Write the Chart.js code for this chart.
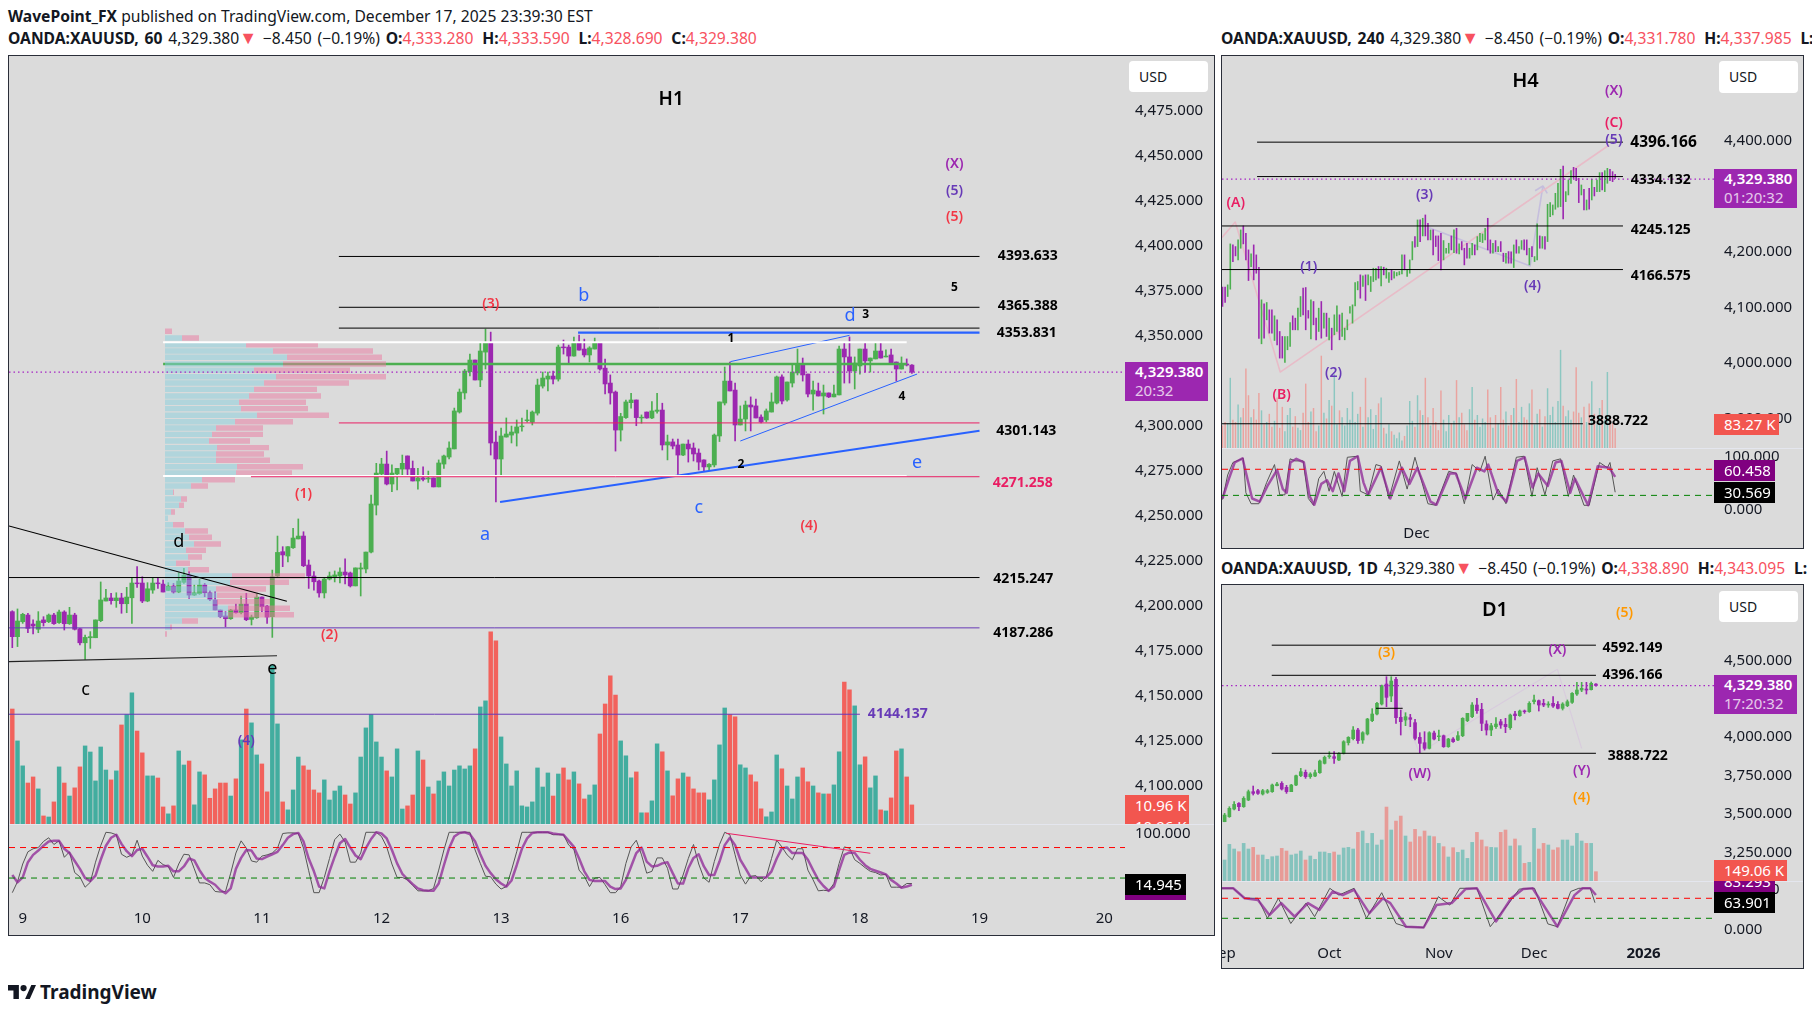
<!DOCTYPE html>
<html lang="en">
<head>
<meta charset="UTF-8" />
<title>OANDA:XAUUSD H1 H4 D1</title>
<script src="https://cdn.jsdelivr.net/npm/chart.js"></script>
<style>
  html, body { margin: 0; background: #fff; }
  body { width: 1812px; height: 1016px; position: relative; overflow: hidden; font-family: 'Noto Sans', sans-serif; color: #131722; font-size: 15px; }
  .head { position: absolute; white-space: nowrap; line-height: 20px; font-size: 15.65px; }
  .head.quote { word-spacing: 1.7px; }
  .head b { font-weight: 700; }
  .head b.k { margin-left: 3px; }
  .head i { font-style: normal; color: #F7525F; }
  .head i.tri { font-size: 18px; line-height: 14px; }
  .panel { position: absolute; box-sizing: border-box; border: 1px solid #2A2E39; background: #DBDBDB; overflow: hidden; }
  .panel canvas { position: absolute; left: 0; top: 0; }
  .tag { position: absolute; box-sizing: border-box; color: #fff; padding-left: 10px; line-height: 20px; white-space: nowrap; overflow: hidden; }
  .usd { position: absolute; box-sizing: border-box; background: #fff; border-radius: 4px; padding: 6px 0 0 10px; font-size: 14px; line-height: 20px; }
  .sep { position: absolute; height: 1px; background: #E4E6EE; }
  .logo { position: absolute; left: 8px; top: 980px; display: flex; align-items: center; gap: 4px; font-weight: 700; font-size: 19px; line-height: 24px; }
</style>
</head>
<body>

<div class="head" style="left:8px;top:6px"><b>WavePoint_FX</b> published on TradingView.com, December 17, 2025 23:39:30 EST</div>
<div class="head quote" style="left:8px;top:28px"><b>OANDA:XAUUSD, 60</b> 4,329.380<i class="tri">▼</i> −8.450 (−0.19%) <b>O:</b><i>4,333.280</i> <b class="k">H:</b><i>4,333.590</i> <b class="k">L:</b><i>4,328.690</i> <b class="k">C:</b><i>4,329.380</i></div>
<div class="head quote" style="left:1221px;top:28px;width:591px;overflow:hidden"><b>OANDA:XAUUSD, 240</b> 4,329.380<i class="tri">▼</i> −8.450 (−0.19%) <b>O:</b><i>4,331.780</i> <b class="k">H:</b><i>4,337.985</i> <b class="k">L:</b></div>
<div class="head quote" style="left:1221px;top:558px;width:591px;overflow:hidden"><b>OANDA:XAUUSD, 1D</b> 4,329.380<i class="tri">▼</i> −8.450 (−0.19%) <b>O:</b><i>4,338.890</i> <b class="k">H:</b><i>4,343.095</i> <b class="k">L:</b></div>

<div class="panel" style="left:8px;top:55px;width:1207px;height:881px"><canvas id="chartH1"></canvas></div>
<div class="panel" style="left:1221px;top:55px;width:583px;height:494px"><canvas id="chartH4"></canvas></div>
<div class="panel" style="left:1221px;top:584px;width:583px;height:385px"><canvas id="chartD1"></canvas></div>

<div class="sep" style="left:9px;top:824px;width:1205px"></div>
<div class="sep" style="left:1222px;top:448px;width:581px"></div>
<div class="sep" style="left:1222px;top:881px;width:581px"></div>

<!-- H1 price scale tags -->
<div class="usd" style="left:1129px;top:61px;width:79px;height:31px">USD</div>
<div class="tag" style="left:1125px;top:362px;width:83px;height:39px;background:#9C27B0;line-height:19px"><b style="font-weight:600">4,329.380</b><br><span style="opacity:.75">20:32</span></div>
<div class="tag" style="left:1125px;top:795px;width:64px;height:29px;background:#F2564F;line-height:21px">10.96 K<br>10.96 K</div>
<div class="tag" style="left:1125px;top:895px;width:61px;height:5px;background:#800080"></div>
<div class="tag" style="left:1125px;top:874px;width:61px;height:21px;background:#000">14.945</div>

<!-- H4 price scale tags -->
<div class="usd" style="left:1719px;top:61px;width:79px;height:32px">USD</div>
<div class="tag" style="left:1714px;top:169px;width:83px;height:39px;background:#9C27B0;line-height:19px"><b style="font-weight:600">4,329.380</b><br><span style="opacity:.75">01:20:32</span></div>
<div class="tag" style="left:1714px;top:414px;width:65px;height:21px;background:#F2564F">83.27 K</div>
<div class="tag" style="left:1714px;top:460px;width:61px;height:21px;background:#800080">60.458</div>
<div class="tag" style="left:1714px;top:482px;width:61px;height:21px;background:#000">30.569</div>

<!-- D1 price scale tags -->
<div class="usd" style="left:1719px;top:591px;width:79px;height:31px">USD</div>
<div class="tag" style="left:1714px;top:675px;width:83px;height:39px;background:#9C27B0;line-height:19px"><b style="font-weight:600">4,329.380</b><br><span style="opacity:.75">17:20:32</span></div>
<div class="tag" style="left:1714px;top:881px;width:61px;height:11px;background:#800080"><span style="position:relative;top:-10px;display:block">83.293</span></div>
<div class="tag" style="left:1714px;top:860px;width:73px;height:21px;background:#F2564F">149.06 K</div>
<div class="tag" style="left:1714px;top:892px;width:61px;height:21px;background:#000">63.901</div>

<div class="logo">
  <svg width="28" height="14" viewBox="0 0 36 18"><path fill="#131722" d="M0 0h14v18H7V7H0zM22 18l8-18h6l-8 18z"/><circle cx="20" cy="4" r="4" fill="#131722"/></svg>
  <span>TradingView</span>
</div>

<script>
// ---- H1 data, one value per hourly bar ----
const h1Open = [
  4196.3,4182.4,4190.7,4194.4,4189.4,4186.5,4191.7,4190.7,4194.4,4190.2,
  4196.1,4189.6,4194.4,4186.8,4179,4181.8,4181.8,4191.3,4202.2,4203.9,
  4202.4,4203.9,4200.7,4204,4212.2,4212.2,4202.2,4208.3,4212.2,4211.6,
  4208.1,4210.5,4207.2,4212.6,4216.6,4205.5,4206.3,4211.1,4206.8,4202.8,
  4197.2,4193.9,4192.4,4197.2,4195.7,4200.5,4192,4192.9,4204.4,4199.4,
  4193.5,4216.1,4229.6,4227.2,4231.8,4236.7,4238.3,4222.2,4216.1,4213.3,
  4206.7,4214.4,4215.6,4216.1,4218.3,4217.8,4210.6,4220,4220,4229.4,
  4255.5,4272.8,4278.3,4267.2,4272.8,4275.5,4282.8,4275.9,4268.9,4270.6,
  4270,4270.6,4265.6,4278.3,4282.2,4286.7,4307.2,4317.8,4329.6,4336.1,
  4325,4340.5,4345.7,4290.5,4281.1,4293.3,4294.4,4295.5,4299,4302.4,
  4301.6,4306.6,4321.6,4325.5,4327.2,4325.5,4343.3,4343.3,4338.3,4345.5,
  4342.2,4338.9,4342.2,4345.5,4331.6,4323.3,4318.3,4297.2,4304.1,4312.4,
  4313.9,4303.9,4307.2,4303.9,4307.6,4308.3,4288.9,4290.6,4288.9,4283.3,
  4289.4,4287.2,4284.4,4280.6,4276.7,4277.8,4293.9,4312.2,4324.4,4319.4,
  4300,4303.3,4311.1,4310.6,4304.4,4302.8,4307.2,4312.2,4326.7,4313.9,
  4323.3,4328.9,4333.3,4328.3,4317.2,4318.9,4316.1,4317.8,4315.6,4316.7,
  4342.2,4337.8,4330,4332.8,4342.2,4335.6,4336.7,4341.1,4337.8,4338.9,4335,4331.1,4333.9,4333.28];
const h1High = [
  4196.8,4197.8,4195.4,4195.4,4191.7,4196.3,4193.5,4195,4195.4,4197.2,
  4196.8,4198.7,4195.4,4187,4183.3,4185.2,4191.7,4212.8,4208.7,4206.5,
  4206.8,4206.5,4209.8,4215.3,4221.3,4215.7,4212.4,4214.8,4215.2,4213.9,
  4212.4,4212,4217.9,4220.3,4218.5,4211.1,4214.4,4212,4207.9,4207.4,
  4197.2,4196.3,4197.6,4200.5,4205,4206.5,4194.4,4206.1,4204.6,4199.8,
  4219.4,4238.3,4232.4,4232.4,4242.6,4247.8,4240.7,4225,4218.5,4213.9,
  4215,4218.3,4218.9,4220.6,4225.6,4218.3,4220.6,4223.3,4229.4,4261.1,
  4278.7,4281.5,4285.5,4277.8,4275.9,4283.3,4282.8,4280,4275.9,4276.7,
  4274.4,4270.6,4280.6,4283.3,4290.6,4309.4,4320,4330.9,4339.4,4336.1,
  4345.5,4353.3,4351.6,4296.6,4298.3,4303.9,4299.4,4302.8,4303.9,4308.3,
  4307.8,4325.5,4329.4,4329.4,4330,4344.4,4347.2,4344.4,4348.9,4350,
  4347.7,4343.5,4348.3,4346.1,4336.6,4327.8,4318.9,4306.5,4313.9,4317.6,
  4313.9,4305.6,4307.2,4313,4317.6,4312.1,4294.4,4292.2,4292.2,4289.4,
  4291.7,4290,4286.7,4280.6,4278.5,4295,4312.8,4332.2,4335,4323.3,
  4310.6,4313.3,4315.6,4314.4,4305.6,4308.9,4317.8,4327.2,4327.8,4323.9,
  4333.9,4342.2,4337.2,4328.3,4324.4,4323.3,4322.2,4317.8,4322.2,4343.9,
  4345.6,4348.9,4337.8,4342.2,4345.6,4337.2,4345.6,4345.6,4341.7,4342.2,4335,4337.8,4336.7,4333.59];
const h1Low = [
  4176.3,4176.9,4189.8,4184.6,4183.9,4184.6,4188.3,4190.2,4189.2,4189.8,
  4186.1,4189.2,4186.1,4177.8,4169.8,4175.9,4181.8,4190.7,4202.2,4200.5,
  4198.7,4195.4,4195.7,4189.8,4209.8,4201.3,4201.8,4206.5,4209.2,4207.2,
  4208,4206.5,4206.8,4212,4203.7,4205.2,4205.9,4204.6,4202.4,4197.2,
  4192.9,4187.9,4192,4195.4,4195,4191.3,4188.9,4192.6,4196.3,4189.8,
  4182,4215.7,4221.3,4223.9,4231.4,4236.7,4221.3,4209.2,4208.3,4204.4,
  4203.9,4213.9,4212.8,4212.2,4211.7,4210,4210.6,4205,4217.8,4228.9,
  4250,4272.2,4266.7,4263,4263.9,4272.2,4272.2,4268.9,4264.4,4268.9,
  4268.1,4265.6,4265.6,4275.9,4281.1,4286.7,4306.6,4314.4,4327.2,4325,
  4321.3,4331.1,4283.3,4257.2,4271.6,4293.3,4290,4288.3,4296.6,4301.6,
  4300,4305.5,4320.5,4318.9,4322.8,4324.4,4339.4,4334.4,4338.3,4341.6,
  4337.8,4335,4342.2,4330.5,4317.2,4311.6,4285.5,4291.1,4303.7,4309.3,
  4299.6,4301,4303.7,4303.5,4306.5,4286.1,4280.6,4286.7,4272.6,4283,
  4279.4,4280,4275,4274.4,4275,4276.7,4290.8,4311.1,4318.9,4291.1,
  4300,4296.7,4296.7,4303.9,4301.1,4301.7,4307.2,4311.7,4311.7,4313.3,
  4321.1,4327.8,4324.4,4315.6,4308.3,4316.1,4306.1,4315.2,4315.6,4316.7,
  4323.3,4323.3,4320,4328.3,4329.4,4329.4,4336.7,4337.2,4337.8,4334.4,4324.4,4331.1,4332.8,4328.69];
const h1Close = [
  4182.4,4191.1,4194.8,4187,4188.3,4191.1,4190.2,4194.4,4189.6,4196.1,
  4189.6,4194.4,4186.5,4179,4182,4182.4,4191.7,4202.8,4203.9,4202.4,
  4203.9,4200.7,4204.4,4212.2,4211.8,4202.2,4209,4212.2,4211.8,4207.2,
  4210.5,4207.2,4213.3,4216.6,4205.5,4206.8,4211.1,4206.8,4203.1,4197.2,
  4193.5,4192.4,4197.2,4195.7,4200.5,4191.8,4193.3,4204.4,4199,4193.3,
  4215.7,4229.2,4227.8,4232.4,4237.2,4238.3,4221.8,4216.1,4212.9,4206.7,
  4214.4,4216.1,4216.7,4218.3,4216.7,4210.6,4220.6,4220.6,4229.4,4256.1,
  4273.3,4278.3,4267.2,4273.3,4275.9,4278.7,4275.5,4268.9,4270.6,4269.8,
  4270.6,4265.6,4278.9,4282.8,4287.2,4307.8,4318.3,4330,4336.1,4325,
  4341.1,4345.7,4290,4281.1,4293.9,4295,4296.1,4298.9,4299.4,4302.8,
  4307.2,4322.2,4326.1,4327.2,4325.5,4343.3,4342.9,4338.3,4345.5,4341.6,
  4338.9,4342.8,4345.5,4331.1,4322.8,4317.8,4297.2,4304.7,4312.8,4313.9,
  4304.1,4304.3,4303.9,4307.8,4308.3,4288.9,4290.6,4288.3,4283.3,4289.4,
  4286.7,4283.9,4279.4,4276.7,4278.2,4294.4,4312.8,4324.4,4318.9,4300,
  4303.3,4311.1,4310,4303.9,4301.7,4307.8,4312.8,4326.7,4313.3,4323.9,
  4329.4,4333.9,4327.8,4317.2,4319.4,4316.1,4317.8,4315.6,4317.2,4342.2,
  4337.8,4330,4334.4,4342.2,4335.6,4337.2,4341.1,4337.2,4338.3,4334.4,4331.1,4333.9,4333.3,4329.38];
const h1Volume = [
  66.3,47.9,33.5,23.6,27.1,20.2,4.6,4,12.7,32.9,23.6,16.1,20.8,32.9,45,41.5,24.8,44.4,31.1,25.4,
  30.6,57.1,63.1,75.6,53.6,41,27.7,27.7,26.5,9.8,5.8,10.4,42.1,34,36.3,11,30,28.3,14.8,20.2,
  23.6,23.6,16.1,26,48.5,66.3,58.3,39.8,34.6,18.5,91.7,57.7,12.7,8.1,19.6,38.6,33.5,31.1,19.6,17.9,
  25.4,13.8,19,21.9,16.7,11.5,17.9,38.6,55.4,63.1,47.3,38.6,30.6,27.1,43.3,8.6,10.4,16.7,42.1,36.9,
  21.3,17.3,24.8,30,21.9,31.1,33.5,31.7,33.5,43.3,67.5,71,110.8,105.6,50.2,34.6,21.9,30.6,10.4,9.8,
  12.7,32.3,21.3,29.4,16.1,28.8,32.3,25.4,30,23.1,14.4,16.7,22.5,51.9,69.2,85.4,74.4,47.9,39.3,26.6,
  30,6.4,6.4,13.3,46.2,41.6,30.6,16.2,26,29.4,27.1,20.2,17.9,17.9,13.9,25.4,45.6,66.9,63.1,61.8,
  34.1,32.3,28.3,24.3,8.7,4.1,6.9,39.8,31.8,21.9,14.4,27.1,32.3,24.3,21.9,17.9,17.3,17.3,22.5,41.6,
  81.9,77.3,68.1,34.1,38.7,20.8,27.7,8.1,7.5,15,42.1,43.3,27.1,10.96];
const h1StochK = [
  1,19,48,68,73,75,85,91,80,86,59,68,34,27,10,18,51,78,100,99,96,64,59,63,87,61,46,36,54,47,
  44,26,48,64,63,40,17,17,14,3,2,3,33,66,86,74,53,51,61,63,66,74,98,99,99,98,74,37,1,1,
  26,57,88,97,84,51,51,66,100,100,100,93,76,48,26,26,22,13,4,4,4,8,38,71,100,100,100,100,
  100,71,49,28,27,15,7,11,38,68,100,100,100,100,100,100,96,96,96,79,72,38,28,11,25,26,14,1,1,11,
  49,76,87,63,33,36,58,58,41,7,7,30,57,80,48,25,18,52,80,100,96,63,30,15,28,29,19,27,57,87,
  76,63,55,73,73,38,22,4,5,4,16,49,76,74,55,49,42,36,34,30,31,10,10,10,16,16];
const h1StochD = [
  30,18,26,51,63,70,78,85,86,86,73,66,53,40,25,20,29,55,78,91,96,81,69,61,71,73,60,46,44,44,
  45,36,36,44,57,54,38,25,19,14,5,0,8,40,58,71,70,57,56,60,64,68,79,91,97,99,85,57,36,11,
  8,36,60,82,89,75,62,56,74,89,100,98,90,71,49,32,23,15,8,5,4,4,16,46,74,93,99,100,
  97,85,64,45,33,23,16,11,21,46,73,90,99,100,100,100,98,97,96,86,76,57,36,22,20,20,20,11,7,8,
  22,44,66,75,52,44,45,49,51,33,16,16,41,58,64,44,30,30,52,79,91,79,55,41,26,26,26,26,36,57,
  74,75,66,66,66,55,38,22,12,4,11,38,63,67,66,55,46,40,37,34,31,22,16,9,11,14];
const h1DayBars = [3,26,49,72,95,118,141,164,187,211];
const h1DayLabels = ['9','10','11','12','13','16','17','18','19','20'];
const h1PriceTicks = [4475,4450,4425,4400,4375,4350,4325,4300,4275,4250,4225,4200,4175,4150,4125,4100];

// volume profile rows of the H1 chart
const vpPrices = [4352.1,4348.3,4344.6,4341.1,4337.6,4333.9,4330.4,4326.8,4323.3,4319.8,4316.1,4312.6,4309.1,4305.4,4301.8,4298.3,
  4294.8,4291.1,4287.4,4283.9,4280.4,4276.8,4273.3,4269.6,4266.1,4262.6,4258.9,4255.4,4251.7,4248.2,4244.6,4241.1,
  4237.6,4233.9,4230.4,4226.7,4223.2,4219.6,4216.1,4212.6,4208.9,4205.4,4201.8,4198.2,4194.6,4191.1,4187.6,4183.9];
const vpBuy = [0,17,81,108,122,118,89,111,99,89,84,74,76,92,70,51,47,44,52,51,51,72,71,37,26,8,16,14,6,3,8,20,24,29,21,23,11,23,67,65,51,52,52,63,63,17,5,0];
const vpSell = [7,17,72,100,95,103,96,110,85,63,72,67,67,72,58,47,51,41,52,48,54,66,56,33,17,1,6,5,4,0,11,23,23,27,20,14,14,21,73,59,50,41,53,62,66,16,2,2];

// ---- H4 data ----
const h4High = [
  4134.8,4134.8,4139,4212.8,4211,4208,4220,4238,4245.2,4232,4202,4194.8,4211,4193,4170.8,4112,4104.8,4107.2,4094,4094,
  4083.2,4076,4055,4046,4046,4046,4071.2,4083.2,4079,4097,4118,4133,4134.2,4092.8,4112,4109,4079,4097,4109,4088,
  4088,4079,4061,4085,4101.2,4085,4088,4061,4076,4100,4103,4143.2,4145,4157,4155.2,4157,4157,4154,4169,4169,
  4172,4172,4170.8,4169,4161.2,4166,4163,4161.2,4163,4193,4193,4166,4184,4217,4226,4256,4256,4259,4265,4250,
  4238,4238,4227.2,4227.2,4232,4218.8,4205,4214,4227.2,4238,4241,4212.8,4217,4205,4214,4205,4214,4211,4226,4232,
  4230.8,4241,4259,4220,4214,4218.8,4208,4217,4196,4196,4199,4198.4,4211,4220,4208,4218.8,4220,4220,4205,4208,
  4190,4248.8,4227.2,4226,4226,4284.2,4287.2,4283,4304,4322,4347.2,4353.2,4307,4328,4344.8,4350.8,4349,4331,4319,4311.2,
  4292,4313,4329.2,4314.8,4328,4341.2,4341.2,4344.8,4349,4347.2,4343,4338];
const h4Low = [
  4100,4107.2,4118,4131.2,4181,4191.2,4184,4205,4212.8,4184,4146.8,4172,4148,4160,4042.4,4032.8,4043,4076,4052,4052,
  4038.8,4031,4007,4007,3999.2,4022,4028,4058,4058,4058,4082,4085,4058,4079,4041.8,4067,4040,4055,4043,4061,
  4046,4040,4022,4049,4055,4040,4046,4040,4058,4088,4070,4101.2,4130,4115,4136,4110.8,4139,4127,4145,4148,
  4151,4137.2,4157,4151,4143.2,4148,4151,4155.2,4157,4158.8,4166,4154,4160,4184,4206.8,4208,4217,4227.2,4227.2,4220,
  4220,4193,4208,4182.8,4166,4184,4196,4196,4202,4197.2,4196,4194.8,4202,4175,4187,4187,4193,4193,4202,4217,
  4215.2,4220,4202,4196,4196,4199,4199,4199,4181,4178,4178,4178,4170.2,4196,4196,4203.2,4202,4193,4175,4190,
  4181,4184,4205,4205,4203.2,4217,4262,4265,4275.2,4278.8,4280,4257.8,4289,4301,4322,4331,4326.8,4287.2,4301,4274,
  4274,4275.2,4292,4299.2,4307,4307,4310,4307,4322,4326.8,4325,4331];
const h4Up = [
  0,0,1,1,0,0,1,1,0,0,0,1,0,0,0,1,0,1,0,0,1,0,0,0,1,1,1,0,0,1,1,0,0,0,1,0,0,1,0,1,
  0,1,0,1,1,0,1,1,1,1,1,1,1,0,1,0,1,1,1,1,0,1,0,1,1,0,1,1,1,1,0,1,1,1,0,1,0,1,0,0,
  1,0,0,0,0,1,1,1,0,1,0,1,0,0,0,1,1,0,1,1,1,1,0,0,1,0,1,0,0,1,0,0,1,0,1,1,0,0,1,0,
  1,1,0,1,0,1,1,1,1,1,1,0,1,1,1,0,0,0,1,0,1,0,1,0,1,1,0,1,1,0,0,0];
const h4Volume = [
  95,110,105,300,120,110,185,130,170,340,225,130,165,120,235,160,100,110,145,90,
  115,215,85,175,70,140,170,90,135,85,75,150,275,110,155,170,70,95,395,150,
  125,205,180,315,100,160,130,95,170,120,240,110,145,175,90,300,130,165,80,140,
  190,215,85,60,100,70,55,40,65,30,50,95,200,115,90,225,160,140,300,130,
  95,170,110,75,245,120,70,140,105,115,290,130,150,100,75,165,260,120,140,90,
  125,110,250,130,85,140,105,260,120,155,95,140,170,295,110,175,130,120,190,250,
  100,145,165,90,135,255,140,175,110,200,420,180,135,160,120,155,345,150,130,175,
  110,190,285,145,100,170,205,120,325,130,105,83.27];
const h4StochBarsK = [1,3,5,9,10,12,15,18,21,23,25,27,29,32,34,36,38,40,42,44,47,49,53,54,57,60,62,65,69,72,75,80,83,88,91,94,97,100,102,105,107,110,114,117,120,122,125,128,131,134,136,140,142,146,149,150,152];
const h4StochK = [17,64,88,96,30,9,9,50,84,26,26,95,91,91,19,6,57,71,33,71,23,98,100,33,26,84,81,19,91,37,98,9,6,71,67,9,84,71,100,16,37,9,98,100,23,78,26,91,95,23,64,6,6,88,78,88,31];
const h4StochBarsD = [1,3.5,5.7,8.7,10.9,12.4,15.3,18.3,22,24.2,25.7,27.1,29.4,32.3,34.5,36.3,39,41.2,43.4,45.6,47.8,50,53,55.2,57,61.9,65.5,70,72.9,75.9,81,83.3,88.4,90.7,94.4,98.8,101.7,103.2,106.9,110.2,114.3,117.2,120.2,122.4,126.1,129.1,131.3,134.7,136.5,141.6,145.3,149.7,152];
const h4StochD = [19,57,88,96,50,19,13,43,74,37,30,88,95,88,23,7,47,54,33,67,33,91,100,50,26,78,19,78,47,78,13,7,67,67,19,78,71,84,30,13,91,98,40,67,43,88,91,30,57,6,81,78,60.458];
const h4MonthBars = [75.6];
const h4MonthLabels = ['Dec'];
const h4PriceTicks = [4500,4400,4300,4200,4100,4000,3900];

// ---- D1 data ----
const d1Open = [
  3443.6,3476.2,3526.1,3562.9,3541.3,3584.6,3638.9,3645.4,3623.7,3634.5,
  3638.9,3678,3693.1,3667.1,3638.9,3682.3,3743,3764.7,3736.5,3740.8,
  3762.5,3823.2,3866.6,3866.6,3844.9,3888.3,3957.7,3983.7,4040.1,3975.1,
  4014.1,4100.9,4144.3,4209.3,4339.5,4261.4,4369.8,4122.6,4105.2,4120.4,
  4087.9,3992.4,3957.7,3920.9,4020.6,3996.8,4003.3,3931.7,3981.6,3975.1,
  4003.3,4100.9,4126.9,4202.8,4174.6,4079.2,4040.1,4061.8,4094.4,4077,
  4055.3,4144.3,4133.4,4163.8,4159.4,4224.5,4231,4213.7,4202.8,4213.7,
  4207.2,4181.1,4198.5,4220.2,4274.4,4300.4,4306.9,4302.6,4338.89];
const d1High = [
  3497.9,3541.3,3573.8,3567.3,3606.3,3649.7,3675.7,3654,3654,3654,
  3688.8,3699.6,3704,3680.1,3686.6,3747.3,3790.7,3779.9,3762.5,3779.9,
  3844.9,3870.9,3899.2,3899.2,3892.6,3970.7,3996.8,4061.8,4051,4029.3,
  4116.1,4179,4220.2,4333,4387.2,4387.2,4382.8,4170.3,4152.9,4142,
  4109.5,4022.8,4029.3,4029.3,4033.6,4040.1,4007.6,3986,3990.3,4029.3,
  4120.4,4148.6,4218,4246.2,4213.7,4100.9,4083.5,4120.4,4109.5,4116.1,
  4144.3,4161.6,4170.3,4170.3,4224.5,4267.9,4235.4,4239.7,4224.5,4257,
  4224.5,4218,4235.4,4283.1,4350.3,4350.3,4350.3,4352.5,4343.095];
const d1Low = [
  3443.6,3471.9,3519.6,3515.2,3537,3580.3,3617.2,3621.5,3617.2,3628,
  3634.5,3675.7,3649.7,3628,3638.9,3678,3736.5,3725.6,3725.6,3736.5,
  3758.2,3818.9,3855.8,3823.2,3840.6,3884,3942.5,3975.1,3953.4,3953.4,
  4007.6,4094.4,4137.8,4202.8,4192,4224.5,4083.5,4007.6,4068.3,4061.8,
  3975.1,3892.6,3910,3916.5,3975.1,3970.7,3927.4,3927.4,3959.9,3970.7,
  3996.8,4094.4,4120.4,4148.6,4035.8,4007.6,4003.3,4051,4051,4022.8,
  4044.5,4105.2,4129.1,4148.6,4155.1,4209.3,4163.8,4192,4187.6,4187.6,
  4176.8,4170.3,4192,4213.7,4265.7,4289.6,4274.4,4300.4,4326];
const d1Close = [
  3487,3530.4,3556.4,3541.3,3595.5,3638.9,3628,3628,3645.4,3645.4,
  3682.3,3688.8,3656.3,3638.9,3682.3,3743,3769,3736.5,3753.8,3762.5,
  3838.4,3862.3,3873.1,3855.8,3888.3,3964.2,3992.4,4040.1,3970.7,4022.8,
  4111.7,4144.3,4213.7,4328.6,4252.7,4359,4120.4,4094.4,4126.9,4109.5,
  3986,3953.4,3920.9,4022.8,3981.6,4001.1,3931.7,3981.6,3964.2,4003.3,
  4116.1,4148.6,4202.8,4166,4083.5,4040.1,4068.3,4079.2,4072.7,4061.8,
  4137.7,4133.4,4163.8,4159.4,4213.7,4235.4,4202.8,4202.8,4209.3,4196.3,
  4181.1,4209.3,4224.5,4278.7,4300.4,4311.3,4300.4,4343.8,4329.38];
const d1Volume = [
  336,586,512,469,602,512,538,416,416,346,389,400,522,480,416,432,480,336,400,346,
  464,464,442,464,416,528,538,512,778,800,602,762,576,656,1183,816,959,1039,720,624,
  826,709,800,720,709,602,549,384,533,458,496,362,618,778,656,549,538,533,778,816,
  560,672,565,282,298,842,512,602,576,496,533,656,656,560,762,640,602,602,149.06];
const d1StochBarsK = [0.4,2.8,5.2,8,10,12.3,14.9,18.1,19.9,23.1,25,28.2,30.8,34,37,39.1,42.8,45.9,48.3,50.4,54,56.8,60.4,62.9,66.1,68.9,70.9,73.7,75.4,77.8,78.8];
const d1StochK = [100,100,75,75,25,75,12,63,29,100,83,100,25,89,12,4,2,79,58,100,100,4,58,98,100,11,4,92,100,100,63.901];
const d1StochBarsD = [0.4,2.8,5.2,8,10.4,12.9,15.7,18.5,20.9,23.7,25.8,28.2,31.4,34.2,35.8,39.1,42.8,45.5,48.7,51.6,54,58,61.2,63.7,65.7,70.9,74.5,76.2,77.8,79];
const d1StochD = [100,100,75,71,33,63,29,63,46,92,83,96,38,75,63,4,2,58,63,98,100,17,75,98,100,4,83,100,100,83.293];
const d1MonthBars = [0.6,23,46,66,89];
const d1MonthLabels = ['Sep','Oct','Nov','Dec','2026'];
const d1PriceTicks = [4500,4250,4000,3750,3500,3250];

const lastPrice = 4329.38;

// ---- colours and small helpers ----
const FONT = "'Noto Sans', sans-serif";
const UP = '#4CAF50', DOWN = '#9C27B0', BLACK = '#000', CRIMSON = '#E91E63', BLUE = '#2962FF', INDIGO = '#673AB7', ORANGE = '#FF9800', RED = '#F23645', INK = '#131722';
const toBars = (low, high) => low.map((l, i) => ({ x: i + 1, y: [l, high[i]] }));
const fmtPrice = v => v.toLocaleString('en-US', { minimumFractionDigits: 3, maximumFractionDigits: 3 });

function barSet(data, color, thickness, axis, order) {
  return { type: 'bar', data, backgroundColor: color, barThickness: thickness, grouped: false, yAxisID: axis, xAxisID: 'x', order, borderWidth: 0, minBarLength: axis === 'price' ? 0.8 : 0 };
}
function lineSet(data, color, width, axis, order, more) {
  return Object.assign({ type: 'line', data, borderColor: color, borderWidth: width, pointRadius: 0, yAxisID: axis, xAxisID: 'x', order, fill: false, borderCapStyle: 'butt', borderJoinStyle: 'round' }, more);
}
const seg = (x0, y0, x1, y1, color, width, order, more) => lineSet([{ x: x0, y: y0 }, { x: x1, y: y1 }], color, width, 'price', order === undefined ? 1 : order, more);
const dotted = { borderDash: [1.5, 3] };

// common parts of one TradingView pane: price line and the two stochastic bands
function commonLines(endBar, startBar) {
  return [
    seg(startBar, lastPrice, endBar, lastPrice, '#A626C4', 1.3, 2, dotted),
    lineSet([{ x: startBar, y: 75 }, { x: endBar, y: 75 }], '#F00', 1, 'stoch', 2, { borderDash: [6, 5] }),
    lineSet([{ x: startBar, y: 25 }, { x: endBar, y: 25 }], '#008000', 1, 'stoch', 2, { borderDash: [6, 5] })
  ];
}

function labelPlugin(notes) {
  return {
    id: 'notes',
    // the stochastic axis has no width of its own, its labels share the price column
    beforeDraw(chart) {
      const s = chart.scales.stoch;
      s.left = chart.chartArea.right;
      s.right = chart.width;
      s._labelItems = null;
    },
    afterDraw(chart) {
      const ctx = chart.ctx;
      ctx.save();
      ctx.textAlign = 'center';
      ctx.textBaseline = 'middle';
      notes.forEach(([text, bar, price, font, color]) => {
        ctx.font = font + ' ' + FONT;
        ctx.fillStyle = color;
        ctx.fillText(text, chart.scales.x.getPixelForValue(bar), chart.scales.price.getPixelForValue(price) + 1);
      });
      ctx.restore();
    }
  };
}

function makePane(id, o) {
  const canvas = document.getElementById(id);
  canvas.width = o.width;
  canvas.height = o.height;
  const noMargin = s => { s.paddingLeft = s.paddingRight = s.paddingTop = s.paddingBottom = 0; };
  const yAxis = (range, ticks, weight, size, format) => ({
    position: 'right', weight, min: range[0], max: range[1],
    grid: { display: false, drawTicks: false }, border: { display: false },
    ticks: { autoSkip: false, padding: 10, labelOffset: 1, color: INK, font: { family: FONT, size: 15 }, callback: format },
    afterBuildTicks: s => { s.ticks = ticks.map(value => ({ value })); },
    afterFit: s => { s.width = size; noMargin(s); }
  });
  const scales = {
    x: {
      type: 'linear', min: o.bars[0], max: o.bars[1], offset: false,
      grid: { display: false, drawTicks: false, offset: false }, border: { display: false },
      ticks: {
        autoSkip: false, maxRotation: 0, padding: 10, color: INK,
        font: c => ({ family: FONT, size: 15, weight: o.xLabels[c.index] === '2026' ? 'bold' : 'normal' }),
        callback: (v, i) => o.xLabels[i]
      },
      afterBuildTicks: s => { s.ticks = o.xBars.map(value => ({ value })); },
      afterFit: s => { s.height = o.axisHeight; noMargin(s); }
    },
    price: yAxis(o.price, o.priceTicks, 1, o.axisWidth, fmtPrice),
    stoch: yAxis(o.stoch, o.stochTicks, 0, 0, fmtPrice),
    volume: { display: false, position: 'right', min: o.volume[0], max: o.volume[1] }
  };
  if (o.extraScales) Object.assign(scales, o.extraScales);
  return new Chart(canvas, {
    type: 'bar',
    data: { datasets: o.datasets },
    options: {
      responsive: false, animation: false, events: [],
      layout: { padding: 0 },
      plugins: { legend: { display: false }, tooltip: { enabled: false } },
      scales
    },
    plugins: [labelPlugin(o.notes)]
  });
}

// ---- H1 pane ----
const h1Colors = h1Close.map((c, i) => c >= h1Open[i] ? UP : DOWN);
const h1VolColors = h1Close.map((c, i) => c >= h1Open[i] ? '#42AD9F' : '#F2625C');
const vpRows = (starts, lens) => vpPrices.flatMap((p, i) => [{ x: starts[i], y: p }, { x: starts[i] + lens[i], y: p }, { x: starts[i] + lens[i], y: null }]);

const WAVE = '600 14px', TITLE = '600 19px', LEVEL = 'bold 14px';
const h1Notes = [
  ['H1', 127.7, 4481.1, TITLE, BLACK],
  ['(X)', 182.2, 4445.6, WAVE, DOWN], ['(5)', 182.2, 4430.8, WAVE, INDIGO], ['(5)', 182.2, 4416.3, WAVE, RED],
  ['5', 182.2, 4376.7, 'bold 12px', BLACK], ['3', 165.1, 4362.1, 'bold 12px', BLACK], ['1', 139.2, 4348.3, 'bold 12px', BLACK],
  ['2', 141.1, 4278.3, 'bold 12px', BLACK], ['4', 172.1, 4316.1, 'bold 12px', BLACK],
  ['d', 162.1, 4361.1, '18px', BLUE], ['e', 175, 4279.4, '18px', BLUE], ['c', 133, 4254.4, '18px', BLUE], ['b', 110.9, 4372.2, '18px', BLUE], ['a', 91.9, 4239.4, '18px', BLUE],
  ['(4)', 154.2, 4244.4, WAVE, RED], ['(3)', 93, 4367.8, WAVE, RED], ['(1)', 57, 4262.2, WAVE, RED], ['(2)', 62, 4183.7, WAVE, RED],
  ['d', 33, 4235.6, '18px', BLACK], ['c', 15.1, 4153.5, '18px', BLACK], ['e', 51, 4164.8, '18px', BLACK], ['(4)', 46, 4125.2, WAVE, INDIGO],
  ['4393.633', 196.3, 4394.4, LEVEL, BLACK], ['4365.388', 196.3, 4366.7, LEVEL, BLACK], ['4353.831', 196.1, 4351.7, LEVEL, BLACK],
  ['4301.143', 196, 4297.2, LEVEL, BLACK], ['4271.258', 195.3, 4268.2, LEVEL, CRIMSON],
  ['4215.247', 195.4, 4215, LEVEL, BLACK], ['4187.286', 195.4, 4184.8, LEVEL, BLACK], ['4144.137', 171.3, 4139.8, LEVEL, INDIGO]
];

makePane('chartH1', {
  width: 1204, height: 878, axisWidth: 88, axisHeight: 34,
  bars: [0.365, 214.98], price: [4036.1, 4505], volume: [-43.9, 443.1], stoch: [-11, 1372.6],
  xBars: h1DayBars, xLabels: h1DayLabels, priceTicks: h1PriceTicks, stochTicks: [100, 0],
  extraScales: { vp: { axis: 'x', display: false, position: 'top', type: 'linear', min: -156, max: 960, offset: false } },
  notes: h1Notes,
  datasets: [
    seg(63.8, 4393.633, 187, 4393.633, BLACK, 1), seg(63.8, 4365.388, 187, 4365.388, BLACK, 1), seg(63.8, 4353.831, 187, 4353.831, BLACK, 1),
    seg(109.8, 4351.3, 187, 4351.3, BLUE, 2.2),
    seg(63.8, 4301.143, 187, 4301.143, CRIMSON, 1), seg(46.9, 4271.258, 187, 4271.258, CRIMSON, 1),
    seg(30, 4346, 173, 4346, '#fff', 2), seg(30, 4271.6, 173, 4271.6, '#fff', 2),
    seg(94.8, 4257.2, 187, 4296.8, BLUE, 2.2),
    seg(139.1, 4335.2, 162, 4349.8, BLUE, 1), seg(141, 4291.1, 175, 4328.3, BLUE, 1),
    seg(0.365, 4243.9, 53.8, 4202.1, BLACK, 1.2), seg(0.365, 4168.5, 51.9, 4171.8, '#222', 1.2),
    seg(0.365, 4215.247, 187, 4215.247, BLACK, 1),
    seg(0.365, 4187.286, 187, 4187.286, INDIGO, 1),
    seg(0.365, 4139.3, 164, 4139.3, INDIGO, 1),
    lineSet([{ x: 138.3, y: 98.4 }, { x: 166, y: 65.6 }], CRIMSON, 1, 'stoch', 1),
    ...commonLines(214.98, 0.365),
    lineSet(h1StochK.map((y, i) => ({ x: i + 1, y })), '#555', 1, 'stoch', 3),
    lineSet(h1StochD.map((y, i) => ({ x: i + 1, y })), 'rgba(142,36,150,.75)', 2.5, 'stoch', 2.5),
    lineSet(vpRows(vpBuy, vpSell), 'rgba(236,120,160,.5)', 5.4, 'price', 3, { xAxisID: 'vp' }),
    lineSet(vpRows(vpBuy.map(() => 0), vpBuy), 'rgba(136,208,222,.5)', 5.4, 'price', 3, { xAxisID: 'vp' }),
    seg(30, 4333.9, 173, 4333.9, UP, 2.4, 4),
    barSet(h1Close.map((c, i) => ({ x: i + 1, y: [h1Open[i], c] })), h1Colors, 4.2, 'price', 5),
    barSet(toBars(h1Low, h1High), h1Colors, 1, 'price', 6),
    barSet(h1Volume.map((y, i) => ({ x: i + 1, y })), h1VolColors, 3.8, 'volume', 7)
  ]
});

// ---- H4 pane ----
const h4Colors = h4Up.map(u => u ? UP : DOWN);
const h4VolColors = h4Up.map(u => u ? '#8CC7C1' : '#EAA39F');
const h4Notes = [
  ['H4', 117.5, 4507.4, '600 20px', BLACK],
  ['(A)', 6.1, 4287.4, WAVE, CRIMSON], ['(B)', 23.7, 3941.8, WAVE, CRIMSON], ['(C)', 151.5, 4432.8, WAVE, CRIMSON],
  ['(X)', 151.5, 4490.8, WAVE, DOWN], ['(5)', 151.5, 4401.3, WAVE, INDIGO],
  ['(1)', 34.2, 4173.5, WAVE, INDIGO], ['(2)', 43.7, 3982.3, WAVE, INDIGO], ['(3)', 78.7, 4302.2, WAVE, INDIGO], ['(4)', 120.2, 4138, WAVE, INDIGO],
  ['4396.166', 170.6, 4396.8, 'bold 15.5px', BLACK], ['4334.132', 169.5, 4329.7, LEVEL, BLACK], ['4245.125', 169.5, 4239.6, LEVEL, BLACK],
  ['4166.575', 169.5, 4156.8, LEVEL, BLACK], ['3888.722', 153.1, 3895.5, LEVEL, BLACK]
];
const h4Pink = '#E8BCC8', h4Lav = '#C5BEDD';
makePane('chartH4', {
  width: 581, height: 492, axisWidth: 89, axisHeight: 33,
  bars: [0.81, 190], price: [3724.3, 4551.4], volume: [-288.5, 1685], stoch: [-12.6, 866.7],
  xBars: h4MonthBars, xLabels: h4MonthLabels, priceTicks: h4PriceTicks, stochTicks: [100, 0],
  notes: h4Notes,
  datasets: [
    seg(14.3, 4396.166, 155, 4396.166, BLACK, 1), seg(14.3, 4334.132, 155, 4334.132, BLACK, 1),
    seg(0.81, 4245.125, 155, 4245.125, BLACK, 1), seg(0.81, 4166.575, 155, 4166.575, BLACK, 1),
    seg(0.81, 3888.722, 139.6, 3888.722, BLACK, 1),
    ...commonLines(190, 0.81),
    lineSet(h4StochBarsK.map((x, i) => ({ x, y: h4StochK[i] })), '#555', 1, 'stoch', 3),
    lineSet(h4StochBarsD.map((x, i) => ({ x, y: h4StochD[i] })), 'rgba(142,36,150,.75)', 2.5, 'stoch', 2.5),
    barSet(toBars(h4Low, h4High), h4Colors, 0.95, 'price', 5),
    lineSet([{ x: 0.8, y: 4224.3 }, { x: 5.9, y: 4252.3 }, { x: 23.2, y: 3981.9 }, { x: 149.7, y: 4391 }], h4Pink, 1.6, 'price', 6),
    lineSet([{ x: 80.5, y: 4242 }, { x: 119.3, y: 4173 }, { x: 124.2, y: 4317.1 }], h4Lav, 1.6, 'price', 6),
    lineSet([{ x: 121.2, y: 4308.6 }, { x: 124.2, y: 4317.1 }, { x: 125.9, y: 4304 }], h4Lav, 1.6, 'price', 6),
    barSet(h4Volume.map((y, i) => ({ x: i + 1, y })), h4VolColors, 0.8, 'volume', 7)
  ]
});

// ---- D1 pane ----
const d1Colors = d1Close.map((c, i) => c >= d1Open[i] ? UP : DOWN);
const d1VolColors = d1Close.map((c, i) => c >= d1Open[i] ? '#85C3BD' : '#E79B97');
const d1Notes = [
  ['D1', 57.8, 4825.6, '600 20px', BLACK],
  ['(5)', 85, 4810, WAVE, ORANGE], ['(3)', 35, 4549.7, WAVE, ORANGE], ['(4)', 76, 3606.3, WAVE, ORANGE],
  ['(X)', 70.9, 4567.3, WAVE, DOWN], ['(W)', 42, 3758.5, WAVE, DOWN], ['(Y)', 76, 3780, WAVE, DOWN],
  ['4592.149', 86.7, 4580.3, LEVEL, BLACK], ['4396.166', 86.7, 4402.7, LEVEL, BLACK], ['3888.722', 87.8, 3875.7, LEVEL, BLACK]
];
makePane('chartD1', {
  width: 581, height: 383, axisWidth: 89, axisHeight: 33,
  bars: [0.45, 103.8], price: [2706.5, 4983.7], volume: [-864, 4736], stoch: [-16.75, 858],
  xBars: d1MonthBars, xLabels: d1MonthLabels, priceTicks: d1PriceTicks, stochTicks: [100, 0],
  notes: d1Notes,
  datasets: [
    seg(10.9, 4592.149, 79, 4592.149, BLACK, 1), seg(10.9, 4396.166, 79, 4396.166, BLACK, 1), seg(10.9, 3888.722, 79, 3888.722, BLACK, 1),
    seg(32.8, 4181.5, 38.4, 4181.5, BLACK, 1),
    ...commonLines(103.8, 0.45),
    lineSet(d1StochBarsK.map((x, i) => ({ x, y: d1StochK[i] })), '#555', 1, 'stoch', 3),
    lineSet(d1StochBarsD.map((x, i) => ({ x, y: d1StochD[i] })), 'rgba(142,36,150,.75)', 2.5, 'stoch', 2.5),
    barSet(d1Close.map((c, i) => ({ x: i + 1, y: [d1Open[i], c] })), d1Colors, 3, 'price', 5),
    barSet(toBars(d1Low, d1High), d1Colors, 1, 'price', 6),
    lineSet([{ x: 37.8, y: 4214 }, { x: 41.9, y: 3892.6 }, { x: 70.9, y: 4435.2 }, { x: 76, y: 3921.2 }], '#D8CCDD', 1.2, 'price', 7),
    barSet(d1Volume.map((y, i) => ({ x: i + 1, y })), d1VolColors, 3, 'volume', 8)
  ]
});
</script>
</body>
</html>
